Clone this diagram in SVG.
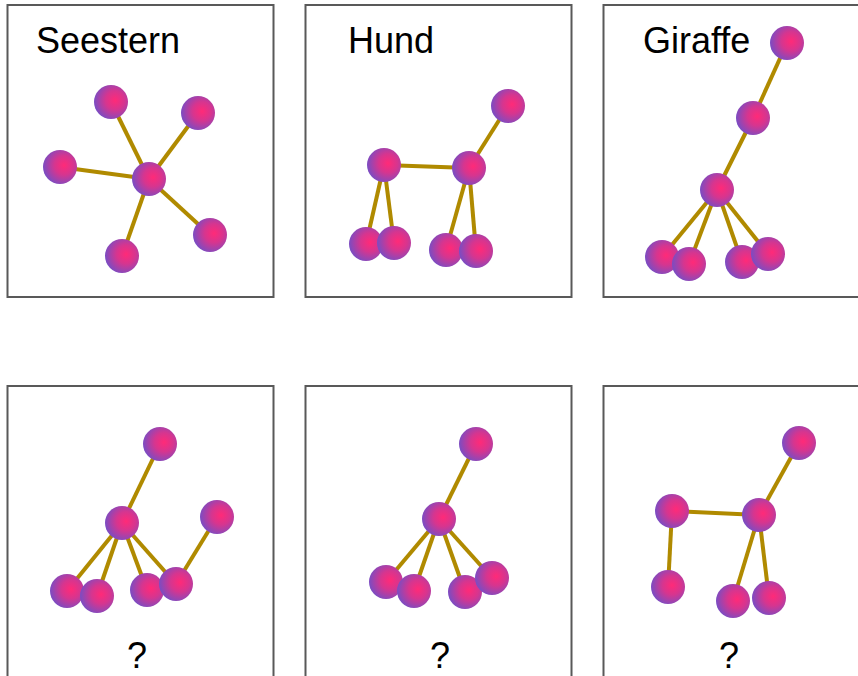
<svg xmlns="http://www.w3.org/2000/svg" width="858" height="676" viewBox="0 0 858 676">
<defs>
<radialGradient id="ball" cx="0.62" cy="0.45" r="0.62" fx="0.62" fy="0.45">
<stop offset="0" stop-color="#ff2a78"/>
<stop offset="0.45" stop-color="#d6358f"/>
<stop offset="1" stop-color="#7b4cc2"/>
</radialGradient>
<style>
.box{fill:#fff;stroke:#595959;stroke-width:2}
.e{stroke:#b08a00;stroke-width:4;fill:none}
.n{fill:url(#ball)}
.t{font-family:"Liberation Sans",Arial,sans-serif;font-size:36px;fill:#000}
</style>
</defs>
<g id="panels">
<rect class="box" x="7.5" y="5" width="266" height="292"/>
<rect class="box" x="305.5" y="5" width="266" height="292"/>
<rect class="box" x="603.5" y="5" width="266" height="292"/>
<rect class="box" x="7.5" y="386" width="266" height="300"/>
<rect class="box" x="305.5" y="386" width="266" height="300"/>
<rect class="box" x="603.5" y="386" width="266" height="300"/>
</g>
<g id="labels">
<text class="t" x="36" y="53">Seestern</text>
<text class="t" x="348" y="53">Hund</text>
<text class="t" x="643" y="53">Giraffe</text>
<text class="t" x="137" y="668" text-anchor="middle">?</text>
<text class="t" x="440" y="668" text-anchor="middle">?</text>
<text class="t" x="729" y="668" text-anchor="middle">?</text>
</g>
<g id="connectors">
<line class="e" x1="149" y1="179" x2="111" y2="102"/>
<line class="e" x1="149" y1="179" x2="198" y2="113"/>
<line class="e" x1="149" y1="179" x2="60" y2="167"/>
<line class="e" x1="149" y1="179" x2="210" y2="235"/>
<line class="e" x1="149" y1="179" x2="122" y2="256"/>
<line class="e" x1="384" y1="165" x2="469" y2="168"/>
<line class="e" x1="469" y1="168" x2="508" y2="106"/>
<line class="e" x1="384" y1="165" x2="366" y2="244"/>
<line class="e" x1="384" y1="165" x2="394" y2="243"/>
<line class="e" x1="469" y1="168" x2="446" y2="250"/>
<line class="e" x1="469" y1="168" x2="476" y2="251"/>
<line class="e" x1="787" y1="43" x2="753" y2="118"/>
<line class="e" x1="753" y1="118" x2="717" y2="190"/>
<line class="e" x1="717" y1="190" x2="662" y2="257"/>
<line class="e" x1="717" y1="190" x2="689" y2="264"/>
<line class="e" x1="717" y1="190" x2="742" y2="262"/>
<line class="e" x1="717" y1="190" x2="768" y2="254"/>
<line class="e" x1="160" y1="444" x2="122" y2="523"/>
<line class="e" x1="122" y1="523" x2="67" y2="591"/>
<line class="e" x1="122" y1="523" x2="97" y2="596"/>
<line class="e" x1="122" y1="523" x2="147" y2="590"/>
<line class="e" x1="122" y1="523" x2="176" y2="584"/>
<line class="e" x1="217" y1="517" x2="176" y2="584"/>
<line class="e" x1="476" y1="444" x2="439" y2="519"/>
<line class="e" x1="439" y1="519" x2="386" y2="582"/>
<line class="e" x1="439" y1="519" x2="414" y2="591"/>
<line class="e" x1="439" y1="519" x2="465" y2="592"/>
<line class="e" x1="439" y1="519" x2="492" y2="578"/>
<line class="e" x1="799" y1="443" x2="759" y2="515"/>
<line class="e" x1="672" y1="511" x2="759" y2="515"/>
<line class="e" x1="672" y1="511" x2="668" y2="587"/>
<line class="e" x1="759" y1="515" x2="733" y2="601"/>
<line class="e" x1="759" y1="515" x2="769" y2="598"/>
</g>
<g id="seestern">
<circle id="s1" class="n" cx="149" cy="179" r="17"/>
<circle id="s2" class="n" cx="111" cy="102" r="17"/>
<circle id="s3" class="n" cx="198" cy="113" r="17"/>
<circle id="s4" class="n" cx="60" cy="167" r="17"/>
<circle id="s5" class="n" cx="210" cy="235" r="17"/>
<circle id="s6" class="n" cx="122" cy="256" r="17"/>
</g>
<g id="hund">
<circle id="h1" class="n" cx="384" cy="165" r="17"/>
<circle id="h2" class="n" cx="469" cy="168" r="17"/>
<circle id="h3" class="n" cx="508" cy="106" r="17"/>
<circle id="h4" class="n" cx="366" cy="244" r="17"/>
<circle id="h5" class="n" cx="394" cy="243" r="17"/>
<circle id="h6" class="n" cx="446" cy="250" r="17"/>
<circle id="h7" class="n" cx="476" cy="251" r="17"/>
</g>
<g id="giraffe">
<circle id="g1" class="n" cx="787" cy="43" r="17"/>
<circle id="g2" class="n" cx="753" cy="118" r="17"/>
<circle id="g3" class="n" cx="717" cy="190" r="17"/>
<circle id="g4" class="n" cx="662" cy="257" r="17"/>
<circle id="g5" class="n" cx="689" cy="264" r="17"/>
<circle id="g6" class="n" cx="742" cy="262" r="17"/>
<circle id="g7" class="n" cx="768" cy="254" r="17"/>
</g>
<g id="q1">
<circle id="a1" class="n" cx="160" cy="444" r="17"/>
<circle id="a2" class="n" cx="122" cy="523" r="17"/>
<circle id="a3" class="n" cx="217" cy="517" r="17"/>
<circle id="a4" class="n" cx="67" cy="591" r="17"/>
<circle id="a5" class="n" cx="97" cy="596" r="17"/>
<circle id="a6" class="n" cx="147" cy="590" r="17"/>
<circle id="a7" class="n" cx="176" cy="584" r="17"/>
</g>
<g id="q2">
<circle id="b1" class="n" cx="476" cy="444" r="17"/>
<circle id="b2" class="n" cx="439" cy="519" r="17"/>
<circle id="b3" class="n" cx="386" cy="582" r="17"/>
<circle id="b4" class="n" cx="414" cy="591" r="17"/>
<circle id="b5" class="n" cx="465" cy="592" r="17"/>
<circle id="b6" class="n" cx="492" cy="578" r="17"/>
</g>
<g id="q3">
<circle id="c1" class="n" cx="799" cy="443" r="17"/>
<circle id="c2" class="n" cx="672" cy="511" r="17"/>
<circle id="c3" class="n" cx="759" cy="515" r="17"/>
<circle id="c4" class="n" cx="668" cy="587" r="17"/>
<circle id="c5" class="n" cx="733" cy="601" r="17"/>
<circle id="c6" class="n" cx="769" cy="598" r="17"/>
</g>
</svg>
